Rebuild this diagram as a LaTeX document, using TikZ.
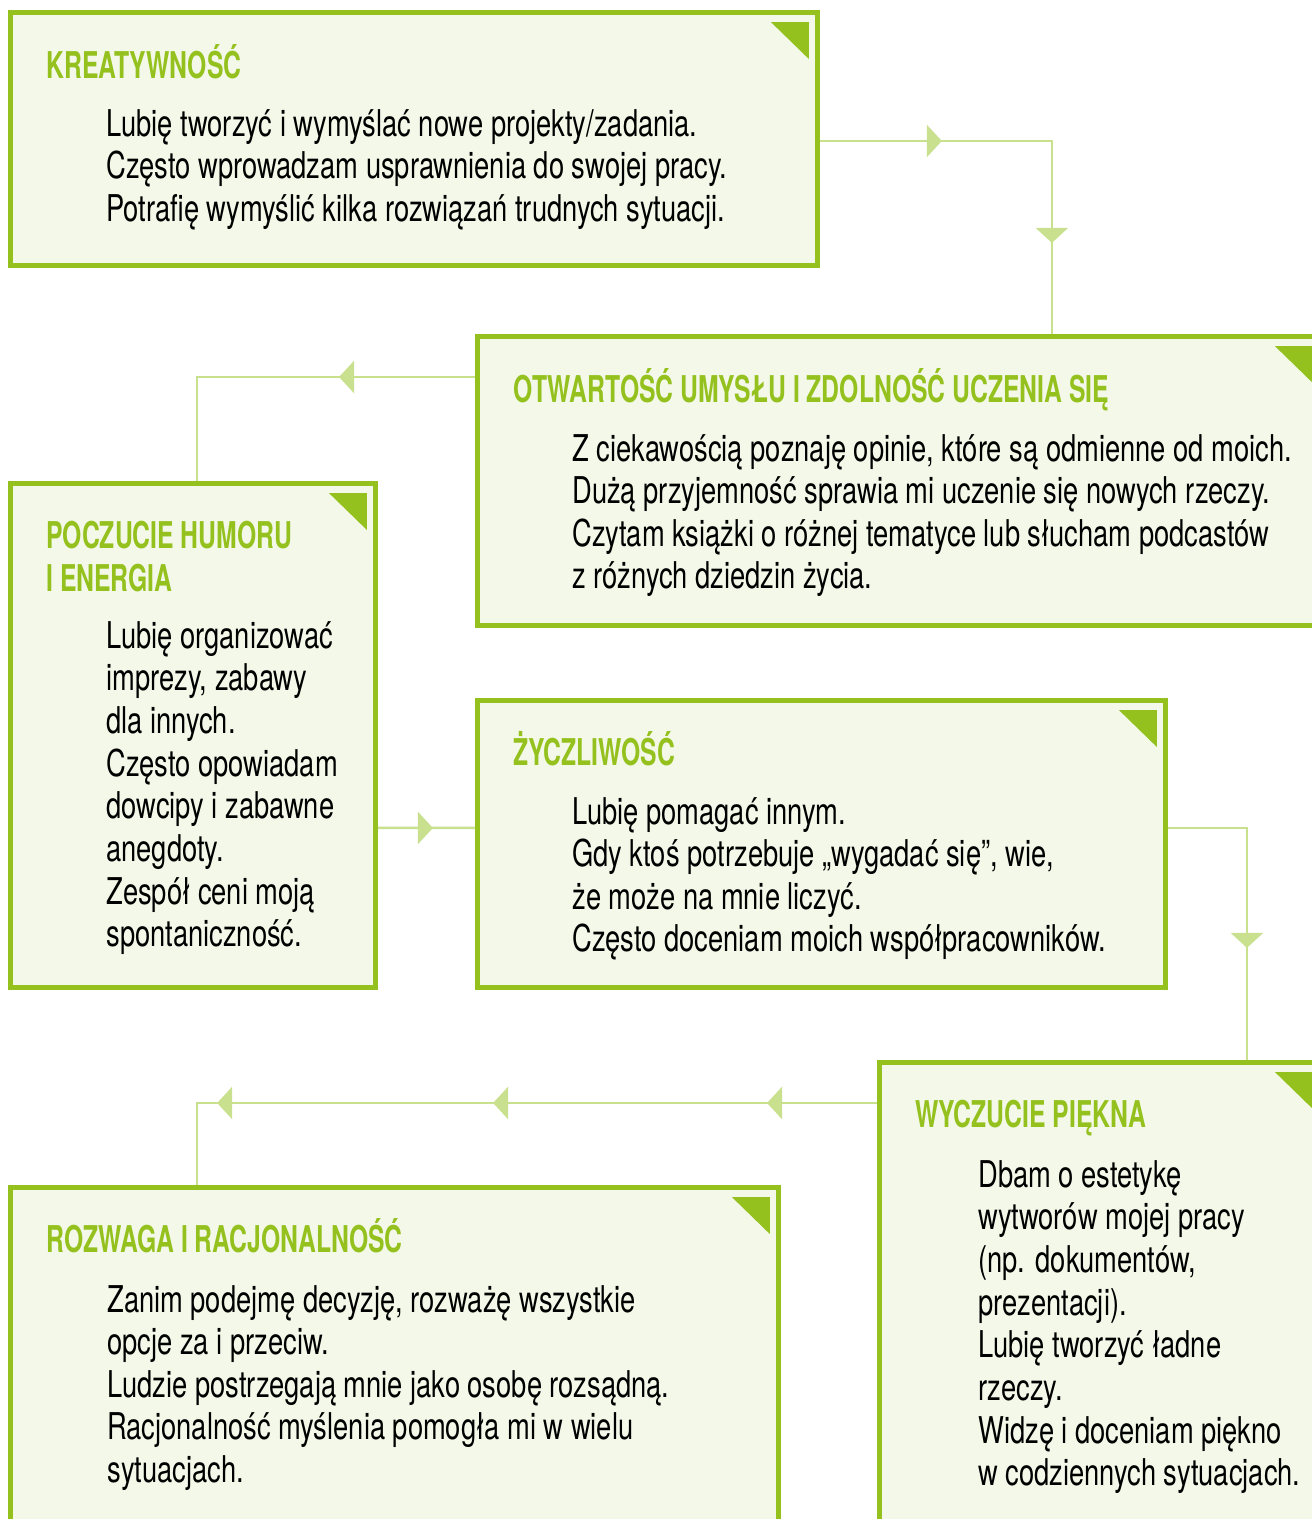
\documentclass[tikz,border=0pt]{standalone}
\usepackage{fontspec}
\setmainfont{TeX Gyre Heros}[FakeStretch=0.74,BoldFeatures={FakeStretch=0.67}]
\usetikzlibrary{arrows.meta,decorations.markings}
\definecolor{kartagreen}{HTML}{95C11F}
\definecolor{kartafill}{HTML}{F3F8E8}
\definecolor{liniagreen}{HTML}{C9E08E}

\begin{document}
\begin{tikzpicture}[x=0.02cm,y=-0.02cm,
  karta/.style={draw=kartagreen,fill=kartafill,line width=0.1cm,anchor=north west,inner sep=0pt},
  tytul/.style={anchor=base west,inner sep=0pt,text=kartagreen,font=\bfseries\fontsize{21}{25}\selectfont},
  tresc/.style={anchor=base west,inner sep=0pt,font=\fontsize{21}{25}\selectfont},
  rog/.style={fill=kartagreen},
  linia/.style={draw=liniagreen,line width=0.05cm},
  grot/.style={postaction={decorate,decoration={markings,
    mark=at position #1 with {\arrow{Triangle[length=0.3cm,width=0.64cm]}}}}}]
  \useasboundingbox (0,0) rectangle (1312,1519);
  \clip (0,0) rectangle (1312,1519);

  % karty
  \node[karta,minimum width=16.14cm,minimum height=5.06cm] (K) at (8,10) {};
  \node[karta,minimum width=16.88cm,minimum height=5.78cm] (O) at (475,334) {};
  \node[karta,minimum width=7.30cm,minimum height=10.08cm] (P) at (8,481) {};
  \node[karta,minimum width=13.76cm,minimum height=5.74cm] (Z) at (475,698) {};
  \node[karta,minimum width=8.84cm,minimum height=9.90cm] (W) at (877,1060) {};
  \node[karta,minimum width=15.36cm,minimum height=7.40cm] (R) at (8,1185) {};

  \foreach \k in {K,O,P,Z,W,R}
    \fill[rog] ([shift={(-49,12)}]\k.north east) -- ([shift={(-11,12)}]\k.north east)
      -- ([shift={(-11,49)}]\k.north east) -- cycle;

  % tytuly
  \node[tytul] (K-t) at ([shift={(38,68)}]K.north west) {KREATYWNOŚĆ};
  \node[tytul] (O-t) at ([shift={(38,68)}]O.north west) {OTWARTOŚĆ UMYSŁU I ZDOLNOŚĆ UCZENIA SIĘ};
  \node[tytul] (P-t) at ([shift={(38,67)}]P.north west) {POCZUCIE HUMORU};
  \node[tytul] (P-t2) at ([shift={(38,110)}]P.north west) {I ENERGIA};
  \node[tytul] (Z-t) at ([shift={(38,67)}]Z.north west) {ŻYCZLIWOŚĆ};
  \node[tytul] (W-t) at ([shift={(38,67)}]W.north west) {WYCZUCIE PIĘKNA};
  \node[tytul] (R-t) at ([shift={(38,67)}]R.north west) {ROZWAGA I RACJONALNOŚĆ};

  % tresc
  \foreach \t [count=\i] in {{Lubię tworzyć i wymyślać nowe projekty/zadania.},
      {Często wprowadzam usprawnienia do swojej pracy.},
      {Potrafię wymyślić kilka rozwiązań trudnych sytuacji.}}
    \node[tresc] (K-\i) at ([shift={(98,{126+42.5*(\i-1)})}]K.north west) {\t};
  \foreach \t [count=\i] in {{Z ciekawością poznaję opinie, które są odmienne od moich.},
      {Dużą przyjemność sprawia mi uczenie się nowych rzeczy.},
      {Czytam książki o różnej tematyce lub słucham podcastów},
      {z różnych dziedzin życia.}}
    \node[tresc] (O-\i) at ([shift={(97,{127+42.5*(\i-1)})}]O.north west) {\t};
  \foreach \t [count=\i] in {{Lubię organizować},{imprezy, zabawy},{dla innych.},
      {Często opowiadam},{dowcipy i zabawne},{anegdoty.},
      {Zespół ceni moją},{spontaniczność.}}
    \node[tresc] (P-\i) at ([shift={(98,{167+42.7*(\i-1)})}]P.north west) {\t};
  \foreach \t [count=\i] in {{Lubię pomagać innym.},
      {Gdy ktoś potrzebuje „wygadać się”, wie,},
      {że może na mnie liczyć.},
      {Często doceniam moich współpracowników.}}
    \node[tresc] (Z-\i) at ([shift={(97,{126+42.5*(\i-1)})}]Z.north west) {\t};
  \foreach \t [count=\i] in {{Dbam o estetykę},{wytworów mojej pracy},{(np. dokumentów,},
      {prezentacji).},{Lubię tworzyć ładne},{rzeczy.},
      {Widzę i doceniam piękno},{w codziennych sytuacjach.}}
    \node[tresc] (W-\i) at ([shift={(101,{127+42.7*(\i-1)})}]W.north west) {\t};
  \foreach \t [count=\i] in {{Zanim podejmę decyzję, rozważę wszystkie},
      {opcje za i przeciw.},
      {Ludzie postrzegają mnie jako osobę rozsądną.},
      {Racjonalność myślenia pomogła mi w wielu},
      {sytuacjach.}}
    \node[tresc] (R-\i) at ([shift={(99,{127+42.5*(\i-1)})}]R.north west) {\t};

  % polaczenia
  \draw[linia,grot=2.44cm,grot=6.68cm] ([yshift=-0.04cm]K.east) -| ([xshift=3.05cm]O.north);
  \draw[linia,grot=2.72cm] ([yshift=-0.86cm]O.north west) -| ([xshift=0.08cm]P.north);
  \draw[linia,grot=1.1cm] ([yshift=-1.85cm]P.east) -- ([yshift=0.32cm]Z.west);
  \draw[linia,grot=3.98cm] ([yshift=0.32cm]Z.east) -| ([xshift=2.93cm]W.north);
  \draw[linia,grot=2.2cm,grot=7.68cm,grot=13.2cm] ([yshift=-0.86cm]W.north west) -| ([xshift=-3.95cm]R.north);
\end{tikzpicture}
\end{document}
